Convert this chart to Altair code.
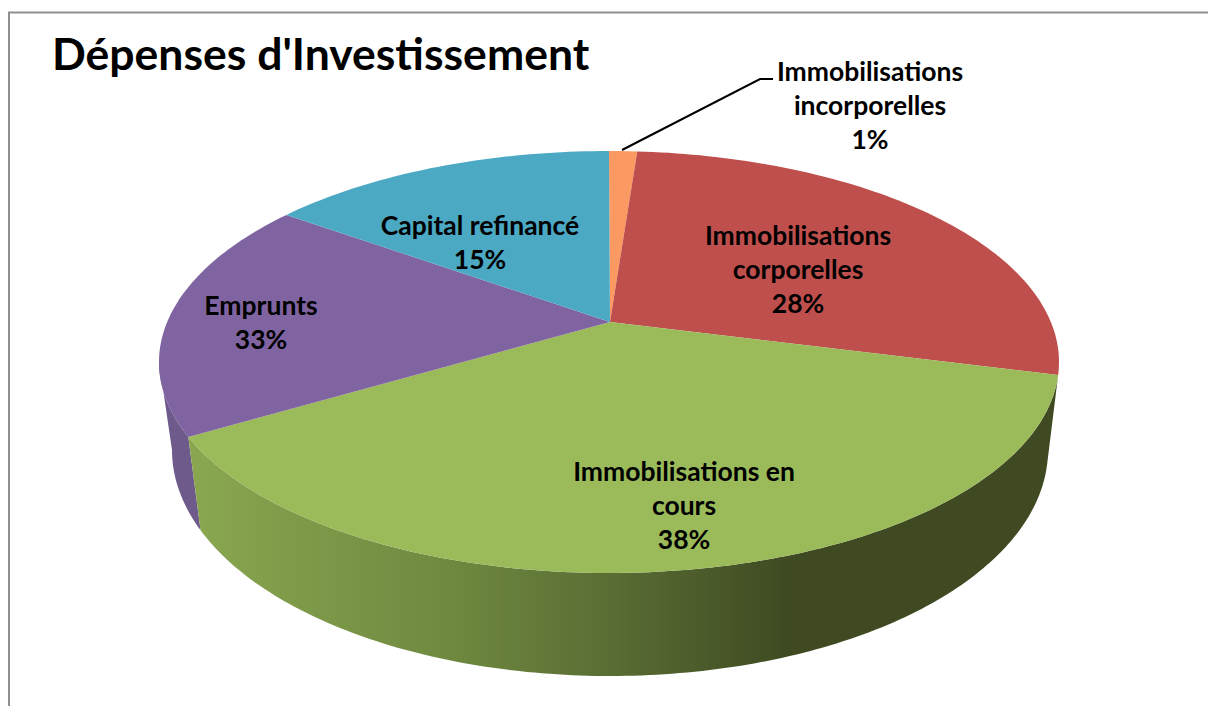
import math
import altair as alt
import pandas as pd

TITLE = "Dépenses d'Investissement"
slice_names = ["Immobilisations incorporelles", "Immobilisations corporelles",
               "Immobilisations en cours", "Emprunts", "Capital refinancé"]
# Drawn sweep of each slice, in degrees of the tilted pie's outline (clockwise from the top)
slice_sweeps = [3.6, 89.9, 155.7, 65.0, 45.8]
# Printed labels (the printed shares do not equal the drawn shares in the source)
label_texts = ["Immobilisations\nincorporelles\n1%", "Immobilisations\ncorporelles\n28%",
               "Immobilisations en\ncours\n38%", "Emprunts\n33%", "Capital refinancé\n15%"]
slice_colors = ["#FA9A62", "#BE4F4C", "#9BBA59", "#8064A2", "#4BA9C4"]

# Layout (reference pixels)
LABEL_X = [870, 798, 684, 261, 480]
LABEL_Y = [73, 237, 473, 307, 227]
TOP = dict(cx=609, cy=362, rx=450, ry=211)
BOTTOM = dict(cx=610, cy=450, rx=438, ry=226)
APEX = (610, 322)
W, H = 1200, 698


def ell(e, t):
    r = math.radians(t)
    return (e["cx"] + e["rx"] * math.sin(r), e["cy"] - e["ry"] * math.cos(r))


def arc(e, t0, t1):
    n = max(2, int(abs(t1 - t0)) + 1)
    return [ell(e, t0 + (t1 - t0) * i / (n - 1)) for i in range(n)]


def frame(pts):
    return pd.DataFrame({"px": [p[0] for p in pts], "py": [p[1] for p in pts], "o": range(len(pts))})


X = alt.X("px:Q", axis=None, scale=alt.Scale(domain=[8, 8 + W]))
Y = alt.Y("py:Q", axis=None, scale=alt.Scale(domain=[8 + H, 8]))


def poly(pts, fill):
    return (alt.Chart(frame(pts))
            .mark_line(fill=fill, stroke=None, clip=False)
            .encode(x=X, y=Y, order="o:Q"))


edges = [0.0]
for s in slice_sweeps:
    edges.append(edges[-1] + s)

side_grad = alt.Gradient(
    gradient="linear", x1=0, x2=1, y1=0, y2=0,
    stops=[alt.GradientStop(offset=0.0, color="#8AA750"),
           alt.GradientStop(offset=0.30, color="#6F8940"),
           alt.GradientStop(offset=0.48, color="#5A6E34"),
           alt.GradientStop(offset=0.69, color="#3F4A22"),
           alt.GradientStop(offset=1.0, color="#3F4A22")])

layers = []
# side walls
g0, g1 = edges[2], edges[3]
layers.append(poly(arc(TOP, g1, 270) + arc(BOTTOM, 270, g1), "#6E5A8B"))
layers.append(poly(arc(TOP, g0, g1) + arc(BOTTOM, g1, g0), side_grad))
# top faces
for i, c in enumerate(slice_colors):
    layers.append(poly([APEX] + arc(TOP, edges[i], edges[i + 1]), c))

# leader line of the smallest slice
leader = pd.DataFrame({"px": [622, 760, 773], "py": [150, 79, 79], "o": [0, 1, 2]})
layers.append(alt.Chart(leader).mark_line(color="black", strokeWidth=2)
              .encode(x=X, y=Y, order="o:Q"))

# chart frame
frame_df = pd.DataFrame({"px": [9, 9, 8 + W], "py": [8 + H, 12.5, 12.5], "o": [0, 1, 2]})
layers.append(alt.Chart(frame_df).mark_line(color="#8F8F8F", strokeWidth=2)
              .encode(x=X, y=Y, order="o:Q"))

labels = pd.DataFrame({"name": slice_names, "label": label_texts, "px": LABEL_X, "py": LABEL_Y})
layers.append(alt.Chart(labels).mark_text(
    font="Lato", fontWeight="bold", fontSize=26.5, color="black", align="center",
    baseline="middle", lineBreak="\n", lineHeight=34).encode(x=X, y=Y, text="label:N"))

chart = (alt.layer(*layers)
         .properties(width=W, height=H, padding=0, autosize="none", background="white",
                     title=alt.TitleParams(TITLE, anchor="start", frame="group", font="Lato",
                                           fontWeight="bold", fontSize=44.5, color="black",
                                           offset=0, dx=44, dy=106, baseline="alphabetic"))
         .configure_view(stroke=None))

chart.save("out.html", embed_options={"renderer": "svg", "actions": False})
